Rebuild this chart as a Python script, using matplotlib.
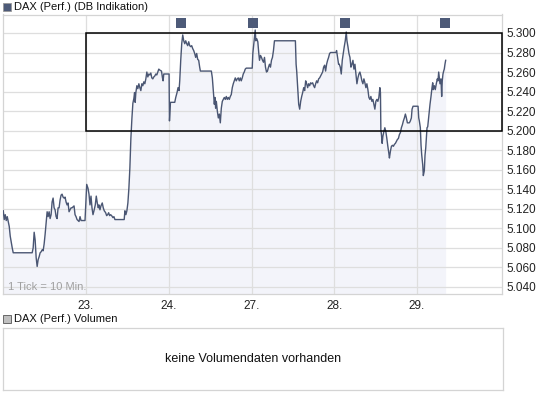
import matplotlib
matplotlib.use("Agg")
import matplotlib.pyplot as plt
from matplotlib.patches import Rectangle

plt.rcParams['font.family'] = ['Liberation Sans', 'DejaVu Sans']

# 10-minute ticks from start of session 22. (83 ticks per trading day)
ticks = [0, 1, 2, 3, 4, 5, 6, 7, 8, 9, 10, 29, 30, 31, 32, 33, 34, 35, 36, 37, 38, 39, 40,
         41, 42, 43, 44, 45, 46, 47, 48, 49, 50, 51, 52, 53, 54, 55, 56, 57, 58, 59, 60,
         61, 62, 63, 64, 65, 66, 67, 68, 69, 70, 71, 72, 73, 74, 75, 76, 77, 78, 82,
         83.7, 85, 86, 87, 88, 89, 90, 91, 92.3, 93.3, 94.3, 95.3, 96, 97, 98, 99.3, 100.3,
         101.3, 102.7, 103.7, 104.7, 105.7, 106.7, 107.7, 108.7, 110, 111, 112, 121.3,
         122, 123, 124, 125, 126, 127, 128, 129, 130, 131, 131.7, 132.3, 133, 134, 135,
         136, 137, 138, 139, 140, 141, 142, 143, 144, 145, 146, 147, 148, 149, 150, 151,
         152, 153, 154, 155, 156, 157, 158.7, 159.7, 160.3, 161, 166.3, 166.7, 167.7, 172,
         173, 174.3, 175.3, 176.3, 177, 178, 179, 180, 181, 182, 183, 184, 185, 186, 187,
         188, 189, 190, 191, 192, 193, 194, 195, 196, 197, 197.7, 208.7, 209.7, 210.7,
         211.7, 212.3, 213, 213.7, 214.7, 215.7, 216.7, 217.7, 218.7, 219.7, 220.7, 221.7,
         222.7, 223.7, 224.7, 225.7, 226.7, 227.7, 228.7, 229.7, 230.7, 231.7, 232.7,
         233.7, 234.7, 235.7, 236.7, 237.7, 238.7, 239.7, 240.7, 241.7, 242.7, 243.7,
         249.7, 250.3, 251.3, 252, 252.7, 253.3, 254.3, 255.3, 256.3, 257, 258, 259, 260,
         261, 262, 263, 264, 265, 266, 267, 268, 269, 270, 271, 272, 293, 293.7, 294.3,
         295.3, 296.3, 297.3, 298.3, 299.3, 300.3, 301.3, 302.3, 303.3, 304.3, 305.3,
         306.3, 307.3, 308.3, 309.3, 310.3, 311.3, 312.3, 313.3, 314.3, 315.3, 316.3,
         317.3, 318.3, 319.3, 320.3, 321.3, 322.3, 323.3, 324.3, 325.3, 326.3, 327.3,
         328.3, 333.7, 334.3, 335.3, 336.3, 337, 338, 339, 340, 341, 342, 343, 344, 344.7,
         345.7, 346.7, 347.7, 348.7, 349.7, 350.7, 351.7, 352.7, 353.7, 354.7, 355.7,
         356.7, 357.7, 358.7, 359.7, 360.7, 361.7, 362.7, 363.7, 364.7, 365.7, 366.7,
         367.7, 368.7, 369.7, 370.7, 371.7, 372.7, 373.7, 374.7, 375.7, 376.7, 377.7,
         378.3, 378.7, 379.3, 380, 380.7, 381.7, 382.7, 383.7, 384.7, 385.7, 386.7, 387.3,
         388.3, 389.3, 390.3, 391.3, 392.3, 393.3, 394.3, 395.3, 396.3, 397.3, 398.3,
         399.3, 400.3, 401.3, 402.3, 403.3, 404.3, 405.3, 406.3, 407.3, 408.3, 409.3, 410,
         411, 416, 416.7, 417.3, 418.3, 419, 419.7, 420.7, 421.3, 422.3, 423, 423.7, 424.3,
         425, 425.7, 426.3, 427.3, 428, 429, 430, 430.7, 431.3, 432.3, 433.3, 434.3, 435.3,
         436, 436.7, 437.3, 438, 439, 439.7, 440.3, 441, 441.7, 442.3, 443, 443.7]

prices = [5.118, 5.109, 5.114, 5.108, 5.112, 5.107, 5.102, 5.092, 5.086, 5.080, 5.075, 5.075,
          5.080, 5.096, 5.088, 5.070, 5.061, 5.068, 5.071, 5.075, 5.076, 5.078, 5.077,
          5.084, 5.094, 5.106, 5.117, 5.112, 5.117, 5.110, 5.114, 5.127, 5.131, 5.121,
          5.119, 5.112, 5.110, 5.121, 5.121, 5.129, 5.134, 5.135, 5.132, 5.131, 5.132,
          5.127, 5.124, 5.126, 5.117, 5.119, 5.121, 5.121, 5.122, 5.123, 5.114, 5.112,
          5.109, 5.108, 5.107, 5.112, 5.108, 5.108,
          5.145, 5.141, 5.135, 5.124, 5.133, 5.121, 5.114, 5.118, 5.124, 5.133, 5.126,
          5.121, 5.124, 5.119, 5.123, 5.126, 5.121, 5.118, 5.116, 5.113, 5.114, 5.116,
          5.113, 5.114, 5.113, 5.111, 5.112, 5.109, 5.109,
          5.118, 5.114, 5.118, 5.126, 5.141, 5.162, 5.192, 5.212, 5.228, 5.233, 5.239,
          5.229, 5.239, 5.246, 5.243, 5.248, 5.244, 5.241, 5.248, 5.246, 5.250, 5.248,
          5.253, 5.260, 5.255, 5.258, 5.257, 5.259, 5.254, 5.253, 5.255, 5.256, 5.258,
          5.257, 5.260, 5.263, 5.262, 5.261, 5.254, 5.251, 5.258, 5.258, 5.210, 5.229,
          5.229, 5.234, 5.239, 5.244, 5.241, 5.251, 5.272, 5.289, 5.298, 5.292, 5.289,
          5.292, 5.289, 5.287, 5.291, 5.287, 5.286, 5.287, 5.284, 5.282, 5.279, 5.275,
          5.279, 5.273, 5.272, 5.265, 5.261, 5.261, 5.254, 5.241, 5.227, 5.234, 5.223,
          5.230, 5.220, 5.213, 5.217, 5.208, 5.223, 5.230, 5.232, 5.234, 5.232, 5.235,
          5.232, 5.234, 5.232, 5.235, 5.237, 5.244, 5.248, 5.251, 5.254, 5.251, 5.253,
          5.254, 5.251, 5.254, 5.251, 5.254, 5.258, 5.260, 5.263, 5.264, 5.264, 5.279,
          5.289, 5.296, 5.303, 5.292, 5.294, 5.291, 5.279, 5.272, 5.277, 5.275, 5.272,
          5.270, 5.275, 5.265, 5.260, 5.261, 5.265, 5.268, 5.265, 5.272, 5.275, 5.282,
          5.292, 5.292, 5.268, 5.261, 5.244, 5.227, 5.222, 5.230, 5.235, 5.239, 5.244,
          5.241, 5.251, 5.248, 5.244, 5.248, 5.246, 5.249, 5.248, 5.249, 5.246, 5.244,
          5.248, 5.251, 5.249, 5.253, 5.254, 5.256, 5.258, 5.260, 5.265, 5.267, 5.261,
          5.268, 5.272, 5.275, 5.279, 5.280, 5.280, 5.282, 5.275, 5.268, 5.268, 5.265,
          5.258, 5.272, 5.279, 5.286, 5.292, 5.301, 5.292, 5.286, 5.279, 5.275, 5.265,
          5.268, 5.272, 5.263, 5.268, 5.258, 5.248, 5.254, 5.258, 5.260, 5.256, 5.251,
          5.248, 5.253, 5.249, 5.244, 5.248, 5.242, 5.234, 5.232, 5.235, 5.230, 5.232,
          5.227, 5.222, 5.230, 5.232, 5.230, 5.234, 5.244, 5.239, 5.201, 5.196, 5.187,
          5.194, 5.199, 5.203, 5.199, 5.192, 5.184, 5.177, 5.172, 5.179, 5.184, 5.185,
          5.184, 5.186, 5.187, 5.189, 5.191, 5.192, 5.196, 5.198, 5.203, 5.206, 5.210,
          5.213, 5.217, 5.213, 5.208, 5.208, 5.208, 5.210, 5.213, 5.222, 5.225, 5.225,
          5.213, 5.210, 5.203, 5.185, 5.175, 5.165, 5.154, 5.159, 5.175, 5.182, 5.192,
          5.203, 5.204, 5.210, 5.220, 5.227, 5.235, 5.244, 5.249, 5.242, 5.246, 5.242,
          5.248, 5.253, 5.251, 5.260, 5.254, 5.248, 5.253, 5.235, 5.251, 5.258, 5.261,
          5.263, 5.268, 5.272]

day_labels = ["23.", "24.", "27.", "28.", "29."]
day_ticks = [83, 166, 249, 332, 415]
y_ticks = [5.04, 5.06, 5.08, 5.10, 5.12, 5.14, 5.16, 5.18, 5.20, 5.22, 5.24, 5.26, 5.28, 5.30]
event_ticks = [178, 250, 343, 443]
box_start = 83
box_low, box_high = 5.20, 5.30

W, H = 545, 395
fig = plt.figure(figsize=(W / 100, H / 100), dpi=100)

line_col = '#4a5673'
grid_col = '#dedede'

ax = fig.add_axes([3 / W, 1 - 294 / H, 499 / W, 279.5 / H])
ax.set_xlim(-0.25, 500.2)
ax.set_ylim(5.0328, 5.3189)
ax.fill_between(ticks, prices, 5.0, color='#f3f4fa', lw=0, zorder=1)
ax.plot(ticks, prices, color=line_col, lw=1.0, zorder=3)
for y in y_ticks:
    ax.axhline(y, color=grid_col, lw=0.9, zorder=2)
for x in day_ticks:
    ax.axvline(x, color=grid_col, lw=0.9, zorder=2)
ax.add_patch(Rectangle((box_start, box_low), 500.2 - box_start, box_high - box_low,
                       fill=False, ec='black', lw=1.1, zorder=4, clip_on=False))
ax.scatter(event_ticks, [0.97] * len(event_ticks), marker='s', s=42, color='#4d5a78',
           transform=ax.get_xaxis_transform(), zorder=5, clip_on=False, linewidths=0)
for s in ax.spines.values():
    s.set_color('#d4d4d4')
    s.set_linewidth(0.9)
ax.yaxis.tick_right()
ax.set_yticks(y_ticks)
ax.set_yticklabels([f"{v:.3f}" for v in y_ticks], fontsize=8.5, color='#222222')
ax.set_xticks(day_ticks)
ax.set_xticklabels(day_labels, fontsize=8.5, color='#222222')
ax.tick_params(length=0)
ax.tick_params(axis='x', pad=4)
ax.tick_params(axis='y', pad=3)
ax.text(5, 5.0395, "1 Tick = 10 Min.", fontsize=8, color='#a0a0a0', va='center', ha='left', zorder=6)

# title
fig.text(14 / W, 1 - 7 / H, "DAX (Perf.) (DB Indikation)", fontsize=8, va='center', ha='left', color='#111111')
fig.patches.append(Rectangle((3 / W, 1 - 11 / H), 8 / W, 8 / H, transform=fig.transFigure,
                             fc='#4d5a78', ec='#9a9a9a', lw=0.6))

# volume panel
fig.text(14 / W, 1 - 319 / H, "DAX (Perf.) Volumen", fontsize=8, va='center', ha='left', color='#111111')
fig.patches.append(Rectangle((3 / W, 1 - 323 / H), 8 / W, 8 / H, transform=fig.transFigure,
                             fc='#c0c0c0', ec='#555555', lw=0.6))
ax2 = fig.add_axes([3 / W, 1 - 390 / H, 500 / W, 62.5 / H])
ax2.set_xticks([])
ax2.set_yticks([])
for s in ax2.spines.values():
    s.set_color('#d4d4d4')
    s.set_linewidth(0.9)
ax2.text(0.5, 0.5, "keine Volumendaten vorhanden", transform=ax2.transAxes, ha='center',
         va='center', fontsize=9, color='#111111')

fig.savefig("out.png", dpi=100)
